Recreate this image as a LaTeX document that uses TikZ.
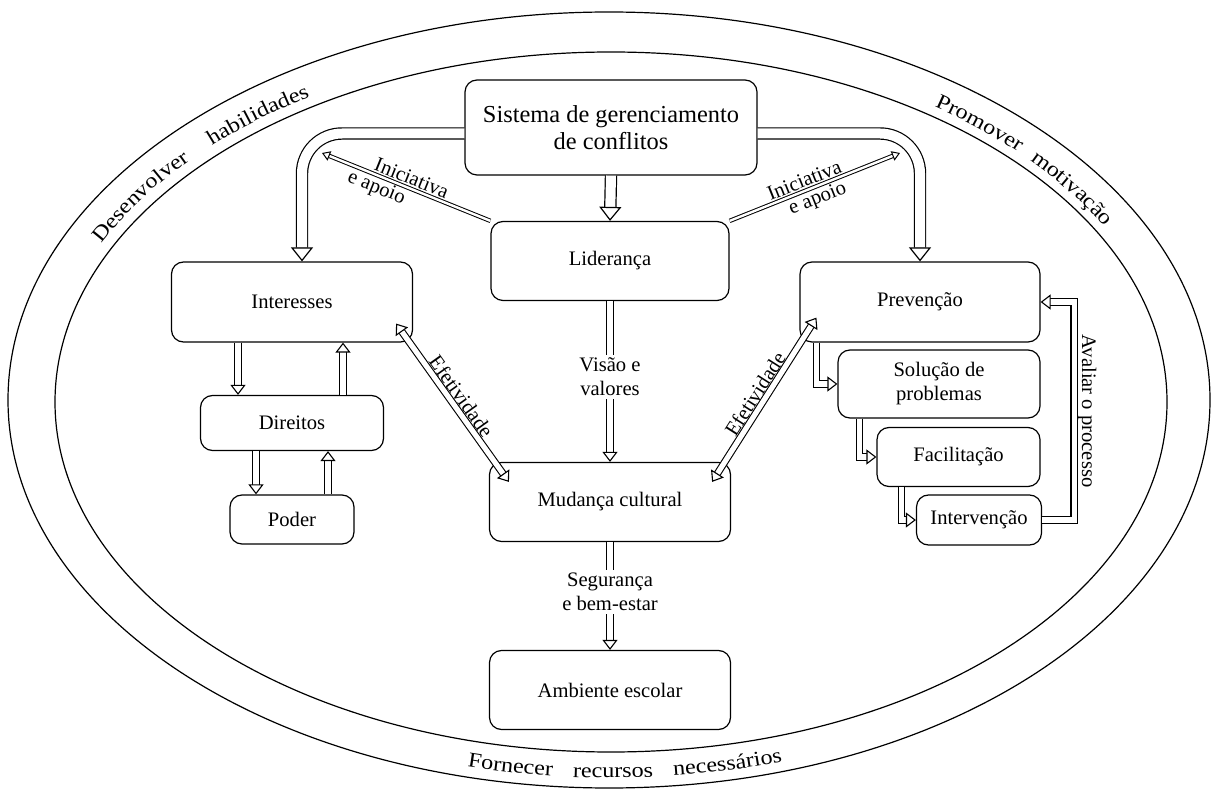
\documentclass[tikz,border=0pt]{standalone}
\usepackage{fontspec}
\setmainfont{Liberation Serif}
\newfontfamily\ringfont[FakeStretch=1.15]{Liberation Serif}
\usetikzlibrary{arrows.meta,decorations.text}

\begin{document}
\begin{tikzpicture}[x=0.5pt,y=-0.5pt]
    \tikzstyle{box} = [draw, line width=0.6pt, rounded corners=6pt, align=center, inner sep=1pt, font=\fontsize{10.3}{12}\selectfont]
    \tikzstyle{lbl} = [inner sep=1.5pt, align=center, font=\fontsize{10.3}{12}\selectfont]
    \tikzstyle{flow} = [double, double distance=2.6pt, line width=0.55pt, >={Triangle[fill=white, width=7.5pt, length=5pt, line width=0.55pt]}]
    \tikzstyle{bigflow} = [double, double distance=5pt, line width=0.6pt, >={Triangle[fill=white, width=11pt, length=7pt, line width=0.6pt]}]
    \tikzstyle{thinflow} = [double, double distance=1.2pt, line width=0.5pt, >={Triangle[fill=white, width=5pt, length=4pt, line width=0.5pt]}]
    \useasboundingbox (0,0) rectangle (1214,790);

    % outer rings
    \coordinate (ctr) at (610,401);
    \draw[line width=0.6pt] (609,400) ellipse [x radius=601, y radius=388];
    \draw[line width=0.6pt] (611,402) ellipse [x radius=556, y radius=350];
    \path[decorate, decoration={text along path, text align=fit to path stretching spaces,
        text={|\ringfont\fontsize{10.5}{13}\selectfont|Desenvolver habilidades}}]
        ([shift={(206:566 and 359)}]ctr) arc[start angle=206, end angle=238, x radius=566, y radius=359];
    \path[decorate, decoration={text along path, text align=fit to path stretching spaces,
        text={|\ringfont\fontsize{10.5}{13}\selectfont|Promover motivação}}]
        ([shift={(305:566 and 359)}]ctr) arc[start angle=305, end angle=331, x radius=566, y radius=359];
    \path[decorate, decoration={text along path, text align=fit to path stretching spaces,
        text={|\ringfont\fontsize{10.5}{13}\selectfont|Fornecer recursos necessários}}]
        ([shift={(104:590 and 377)}]ctr) arc[start angle=104, end angle=73, x radius=590, y radius=377];

    % boxes
    \node (sys)   [box, minimum width=146pt, minimum height=47.5pt, font=\fontsize{12.2}{13.5}\selectfont] at (611,127.5) {Sistema de gerenciamento\\de conflitos};
    \node (lider) [box, minimum width=119pt, minimum height=39.5pt] at (610,261) {Liderança};
    \node (mud)   [box, minimum width=120.5pt, minimum height=39.5pt] at (610,502) {Mudança cultural};
    \node (amb)   [box, minimum width=120.5pt, minimum height=39.5pt] at (610,690) {Ambiente escolar};
    \node (inter) [box, minimum width=120.5pt, minimum height=40pt] at (292,302) {Interesses};
    \node (dir)   [box, minimum width=91.5pt, minimum height=27.5pt] at (292,423) {Direitos};
    \node (pod)   [box, minimum width=62pt, minimum height=24.5pt] at (292,519.5) {Poder};
    \node (prev)  [box, minimum width=120pt, minimum height=40pt] at (920,302) {Prevenção};
    \node (sol)   [box, minimum width=101pt, minimum height=34pt] at (939,384) {Solução de\\problemas};
    \node (fac)   [box, minimum width=81.5pt, minimum height=29.5pt] at (958.5,457) {Facilitação};
    \node (int)   [box, minimum width=62.5pt, minimum height=25pt] at (979,520) {Intervenção};

    % connectors
    \draw[bigflow,->] (sys.south) -- (lider.north);
    \draw[bigflow,->,rounded corners=20pt] ([yshift=-3pt]sys.west) -| ([xshift=5pt]inter.north);
    \draw[bigflow,->,rounded corners=20pt] ([yshift=-3pt]sys.east) -| (prev.north);

    \coordinate (iniL) at (322,153);
    \coordinate (iniR) at (900,153);
    \draw[thinflow,<-] (iniL) -- (lider.north west)
        node[pos=0.51, above, sloped, lbl] {Iniciativa}
        node[pos=0.35, below, sloped, lbl] {e apoio};
    \draw[thinflow,->] (lider.north east) -- (iniR)
        node[pos=0.46, above, sloped, lbl] {Iniciativa}
        node[pos=0.49, below, sloped, lbl] {e apoio};

    \draw[flow,->] (lider) -- (mud) node[pos=0.47, fill=white, lbl] {Visão e\\valores};
    \draw[flow,->] (mud) -- (amb) node[pos=0.46, fill=white, lbl] {Segurança\\e bem-estar};

    \draw[flow,<->] ([xshift=-8.5pt,yshift=9.5pt]inter.south east) -- ([xshift=10pt,yshift=-10pt]mud.north west)
        node[midway, above, sloped, lbl] {Efetividade};
    \draw[flow,<->] ([xshift=-9.5pt,yshift=-10pt]mud.north east) -- ([xshift=8.5pt,yshift=12.5pt]prev.south west)
        node[midway, above, sloped, lbl] {Efetividade};

    \draw[flow,->] ([xshift=-27pt]inter.south) -- ([xshift=-27pt]dir.north);
    \draw[flow,->] ([xshift=25.5pt]dir.north) -- ([xshift=25.5pt]inter.south);
    \draw[flow,->] ([xshift=-18pt]dir.south) -- ([xshift=-18pt]pod.north);
    \draw[flow,->] ([xshift=18pt]pod.north) -- ([xshift=18pt]dir.south);

    \draw[flow,->] ([xshift=8.5pt]prev.south west) |- (sol.west);
    \draw[flow,->] ([xshift=11pt]sol.south west) |- (fac.west);
    \draw[flow,->] ([xshift=12.5pt]fac.south west) |- (int.west);
    \draw[flow,->] (int.east) -- ++(16pt,0) |- (prev.east)
        node[pos=0.25, anchor=south, rotate=-90, lbl] {Avaliar o processo};
\end{tikzpicture}
\end{document}
